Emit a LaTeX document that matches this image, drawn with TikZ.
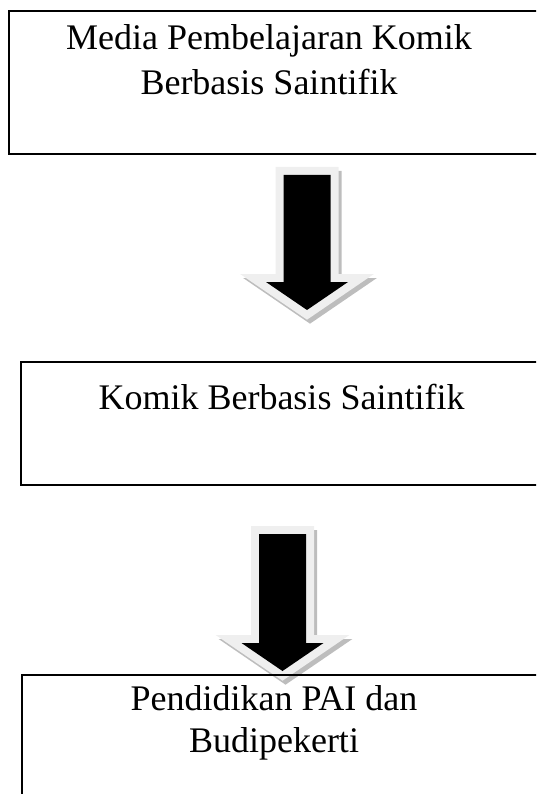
\documentclass[tikz,border=0pt]{standalone}
\usepackage{fontspec}
\setmainfont{Liberation Serif}
\usetikzlibrary{positioning}

\definecolor{arrowrim}{HTML}{EFEFEF}
\definecolor{arrowshadow}{HTML}{BDBDBD}

\tikzset{
	box/.style = {draw, line width=1.5pt},
	boxtext/.style = {align=center, inner sep=0pt, font=\fontsize{36}{45}\selectfont},
	pics/downarrow/.style = {code = {
		% shadow
		\path[shift={(3,4)}, fill=arrowshadow, draw=arrowshadow, line width=16pt, line join=miter]
			(-23.5,0) -- (23.5,0) -- (23.5,#1) -- (41,#1) -- (0,#1+28) -- (-41,#1) -- (-23.5,#1) -- cycle;
		% rim
		\path[fill=arrowrim, draw=arrowrim, line width=16pt, line join=miter]
			(-23.5,0) -- (23.5,0) -- (23.5,#1) -- (41,#1) -- (0,#1+28) -- (-41,#1) -- (-23.5,#1) -- cycle;
		% body
		\fill[black]
			(-23.5,0) -- (23.5,0) -- (23.5,#1) -- (41,#1) -- (0,#1+28) -- (-41,#1) -- (-23.5,#1) -- cycle;
	}}
}

\begin{document}
\begin{tikzpicture}[x=1pt, y=-1pt]
	\useasboundingbox (0,0) rectangle (536,794);
	\clip (0,0) rectangle (536,794);
	% arrows
	\pic (arrowone) at (307,175) {downarrow={107}};
	\pic (arrowtwo) at (282.5,534) {downarrow={109}};
	% boxes
	\draw[box] (9,11) rectangle (570,154);
	\draw[box] (21,362) rectangle (570,485);
	\draw[box] (22,675) rectangle (570,820);
	% texts (base = last line)
	\node[boxtext, anchor=base] (media) at (269,95) {Media Pembelajaran Komik\\Berbasis Saintifik};
	\node[boxtext, anchor=base] (komik) at (281.5,409) {Komik Berbasis Saintifik};
	\node[boxtext, anchor=base, font=\fontsize{36}{42}\selectfont] (pai) at (274,752) {Pendidikan PAI dan\\Budipekerti};
\end{tikzpicture}
\end{document}
